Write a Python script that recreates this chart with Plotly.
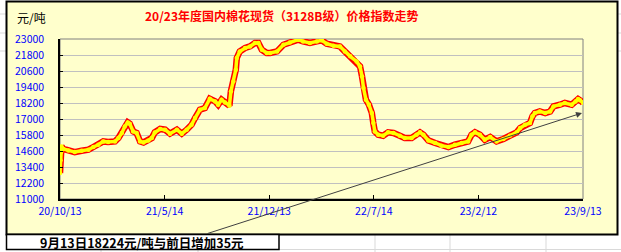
import plotly.graph_objects as go

# ---------------- data ----------------
dates = [
    "2020-10-13", "2020-10-14", "2020-10-15", "2020-10-16", "2020-10-20", "2020-10-30",
    "2020-11-12", "2020-11-26", "2020-12-10", "2020-12-20", "2020-12-30",
    "2021-01-09", "2021-01-19", "2021-02-02", "2021-02-09", "2021-02-16", "2021-02-22",
    "2021-02-28", "2021-03-04", "2021-03-11", "2021-03-18", "2021-03-25", "2021-04-01",
    "2021-04-11", "2021-04-18", "2021-04-24", "2021-05-05", "2021-05-15", "2021-05-25",
    "2021-06-08", "2021-06-18", "2021-06-28", "2021-07-08", "2021-07-15", "2021-07-25",
    "2021-08-04", "2021-08-14", "2021-08-25", "2021-08-31", "2021-09-07", "2021-09-14",
    "2021-09-23", "2021-09-26", "2021-10-01", "2021-10-06", "2021-10-08", "2021-10-14",
    "2021-10-25", "2021-11-04", "2021-11-14", "2021-11-21", "2021-11-28", "2021-12-08",
    "2021-12-15", "2021-12-29", "2022-01-11", "2022-01-24", "2022-02-10", "2022-02-20",
    "2022-03-06", "2022-03-20", "2022-03-30", "2022-04-09", "2022-04-23", "2022-05-06",
    "2022-05-16", "2022-05-27", "2022-06-09", "2022-06-16", "2022-06-20", "2022-06-23",
    "2022-06-28", "2022-07-04", "2022-07-10", "2022-07-13", "2022-07-16", "2022-07-23",
    "2022-08-02", "2022-08-12", "2022-08-23", "2022-09-05", "2022-09-15", "2022-09-29",
    "2022-10-09", "2022-10-16", "2022-10-23", "2022-11-02", "2022-11-16", "2022-11-29",
    "2022-12-13", "2022-12-26", "2023-01-09", "2023-01-22", "2023-01-29", "2023-02-05",
    "2023-02-15", "2023-02-25", "2023-03-08", "2023-03-21", "2023-04-04", "2023-04-17",
    "2023-05-01", "2023-05-08", "2023-05-18", "2023-05-28", "2023-06-02", "2023-06-07",
    "2023-06-17", "2023-06-28", "2023-07-08", "2023-07-15", "2023-07-28", "2023-08-07",
    "2023-08-21", "2023-08-29", "2023-09-03", "2023-09-07", "2023-09-13",
]
prices = [
    12950, 13900, 14500, 14945, 14750, 14645,
    14520, 14620, 14700, 14900, 15070,
    15320, 15275, 15320, 15575, 15950, 16445,
    16745, 16650, 16070, 15950, 15320, 15245,
    15395, 15575, 15995, 16250, 16200, 15900,
    16200, 15900, 16200, 16575, 17075, 17700,
    17825, 18520, 18320, 18070, 18450, 18245,
    18000, 19070, 19820, 20700, 21575, 22070,
    22325, 22445, 22700, 22700, 22200, 21950,
    21950, 22070, 22570, 22745, 22950, 22820,
    22700, 22820, 22900, 22650, 22500, 22445,
    22070, 21700, 21320, 20945, 20195, 19325,
    18450, 18070, 17450, 16700, 16070, 15820,
    15745, 16000, 15950, 15745, 15575, 15575,
    15820, 16000, 15820, 15395, 15200, 15000,
    14900, 15070, 15200, 15320, 15820, 16000,
    15820, 15445, 15650, 15320, 15500, 15745,
    16000, 16320, 16570, 16700, 17200, 17450,
    17570, 17450, 17570, 17945, 18070, 18200,
    18070, 18320, 18500, 18400, 18224,
]
tick_dates = ["2020-10-13", "2021-05-14", "2021-12-13", "2022-07-14", "2023-02-12", "2023-09-13"]
tick_labels = ["20/10/13", "21/5/14", "21/12/13", "22/7/14", "23/2/12", "23/9/13"]
y_ticks = [11000, 12200, 13400, 14600, 15800, 17000, 18200, 19400, 20600, 21800, 23000]
y_labels = [str(v) for v in y_ticks]

title_text = "20/23年度国内棉花现货（3128B级）价格指数走势"
unit_text = "元/吨"
note_text = "9月13日18224元/吨与前日增加35元"

# ---------------- layout geometry ----------------
W, H = 621, 252
ML, MR, MT, MB = 60, 38, 39, 53
PW = W - ML - MR
PH = H - MT - MB


def px(x):
    return (x - ML) / PW


def py(y):
    return (H - MB - y) / PH


CJK = "Noto Sans CJK SC"

fig = go.Figure()
fig.add_trace(go.Scatter(
    x=dates, y=prices, mode="lines",
    line=dict(color="#FF0000", width=6.5), hoverinfo="skip", showlegend=False,
))
fig.add_trace(go.Scatter(
    x=dates, y=prices, mode="lines+markers",
    line=dict(color="#FFFF00", width=3.5),
    marker=dict(color="#FFFF00", size=4.5, line=dict(width=0)),
    showlegend=False,
))

shapes = []
cell = "#d9d9d9"
# spreadsheet cell lines outside the chart
for x in [375, 450, 546]:
    shapes.append(dict(type="line", xref="paper", yref="paper", x0=px(x), x1=px(x),
                       y0=py(235), y1=py(252), line=dict(color=cell, width=1), layer="below"))
for x in [101, 198]:
    shapes.append(dict(type="line", xref="paper", yref="paper", x0=px(x), x1=px(x),
                       y0=py(250), y1=py(252), line=dict(color=cell, width=1), layer="below"))
shapes.append(dict(type="line", xref="paper", yref="paper", x0=px(279), x1=px(621),
                   y0=py(249.5), y1=py(249.5), line=dict(color=cell, width=1), layer="below"))
for y in [14, 33, 51]:
    shapes.append(dict(type="line", xref="paper", yref="paper", x0=px(0), x1=px(6),
                       y0=py(y), y1=py(y), line=dict(color=cell, width=1), layer="below"))
    shapes.append(dict(type="line", xref="paper", yref="paper", x0=px(618), x1=px(621),
                       y0=py(y), y1=py(y), line=dict(color=cell, width=1), layer="below"))
# chart area
shapes.append(dict(type="rect", xref="paper", yref="paper", x0=px(6.5), x1=px(617.5),
                   y0=py(234.5), y1=py(1.5), fillcolor="#FFFFCC",
                   line=dict(color="#000000", width=2), layer="below"))
# plot area frame (gray top/right)
shapes.append(dict(type="rect", xref="paper", yref="paper", x0=0, x1=1, y0=0, y1=1,
                   line=dict(color="#808080", width=1), layer="below"))
# note box
shapes.append(dict(type="rect", xref="paper", yref="paper", x0=px(6.5), x1=px(279),
                   y0=py(249.5), y1=py(234.5), fillcolor="#FFFFFF",
                   line=dict(color="#000000", width=1.5), layer="below"))

annotations = [
    dict(text=title_text, xref="paper", yref="paper", x=px(281), y=py(15),
         showarrow=False, xanchor="center", yanchor="middle",
         font=dict(family=CJK, size=12, color="#FF0000", weight="bold")),
    dict(text=unit_text, xref="paper", yref="paper", x=px(15), y=py(17),
         showarrow=False, xanchor="left", yanchor="middle",
         font=dict(family=CJK, size=12, color="#000000")),
    dict(text=note_text, xref="paper", yref="paper", x=px(142), y=py(242),
         showarrow=False, xanchor="center", yanchor="middle",
         font=dict(family=CJK, size=12.5, color="#000000", weight="bold")),
    dict(text="", xref="paper", yref="paper", x=px(582), y=py(113),
         axref="pixel", ayref="pixel", ax=206 - 582, ay=234 - 113,
         showarrow=True, arrowhead=2, arrowsize=1.2, arrowwidth=1,
         arrowcolor="#404040"),
]

fig.update_layout(
    width=W, height=H,
    margin=dict(l=ML, r=MR, t=MT, b=MB, pad=0),
    paper_bgcolor="#FFFFFF",
    plot_bgcolor="rgba(0,0,0,0)",
    shapes=shapes,
    annotations=annotations,
    showlegend=False,
    xaxis=dict(
        type="date", range=[tick_dates[0], tick_dates[-1]],
        tickmode="array", tickvals=tick_dates, ticktext=tick_labels,
        showgrid=False, zeroline=False,
        showline=True, linecolor="#000000", linewidth=1.5,
        ticks="inside", ticklen=4, tickcolor="#000000",
        tickfont=dict(family=CJK, size=10.5, color="#0000FF"),
        ticklabelstandoff=2,
    ),
    yaxis=dict(
        range=[11000, 23000], tickmode="array", tickvals=y_ticks, ticktext=y_labels,
        showgrid=True, gridcolor="#C0C0C0", gridwidth=1, zeroline=False,
        showline=True, linecolor="#000000", linewidth=1.5,
        ticks="inside", ticklen=3, tickcolor="#000000",
        tickfont=dict(family=CJK, size=10.5, color="#0000FF"),
        ticklabelstandoff=12,
    ),
)

fig.write_html("out.html")
